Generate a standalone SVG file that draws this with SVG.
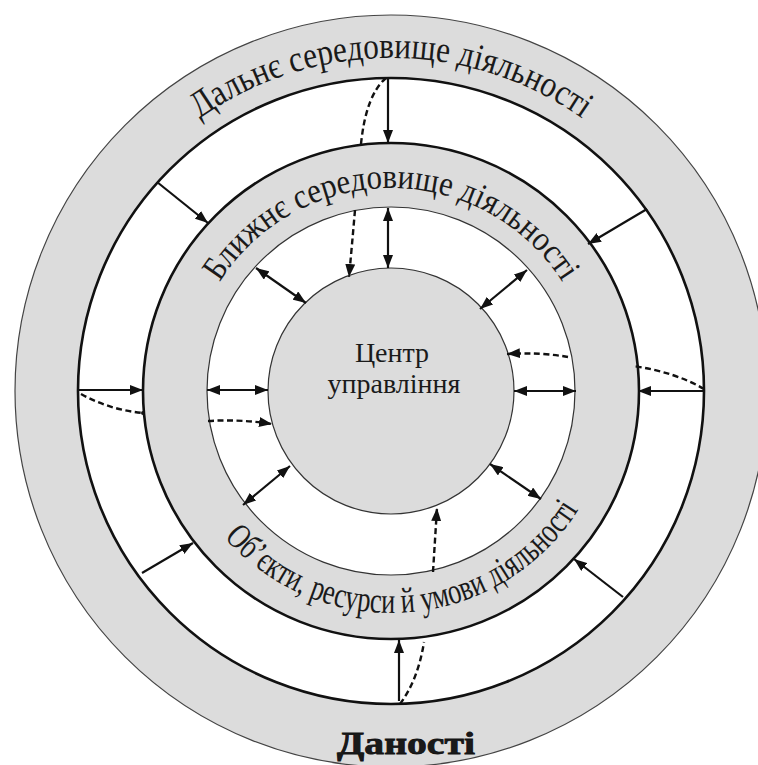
<svg xmlns="http://www.w3.org/2000/svg" width="758" height="765" viewBox="0 0 758 765">
<style>
.band{fill:#dcdcdc}
.thick{stroke:#111;stroke-width:2.6}
.thin{stroke:#333;stroke-width:1.2}
.lbl{font-family:"Liberation Serif","Times New Roman",serif;fill:#1a1a1a}
.solid{fill:none;stroke:#111;stroke-width:2.2}
.dash{fill:none;stroke:#111;stroke-width:2.4;stroke-dasharray:6 3.5}
</style>
<defs>
<marker id="ah" viewBox="0 0 13 10" refX="13" refY="5" markerWidth="13" markerHeight="10" markerUnits="userSpaceOnUse" orient="auto-start-reverse">
<path d="M0,0 L13,5 L0,10 z" fill="#111"/>
</marker>
<path id="pTop" d="M58,391 A333,333 0 0 1 724,391"/>
<path id="pMid" d="M188,391 A203,203 0 0 1 594,391"/>
<path id="pBot" d="M169,391 A222,222 0 0 0 613,391"/>
</defs>
<g id="ring-far">
<circle cx="391" cy="391" r="376" class="band" stroke="#444" stroke-width="1.2"/>
<text class="lbl" font-size="37"><textPath href="#pTop" startOffset="50%" text-anchor="middle" textLength="408" lengthAdjust="spacingAndGlyphs">Дальнє середовище діяльності</textPath></text>
<text class="lbl" x="406" y="754" text-anchor="middle" font-size="32" font-weight="bold" textLength="138" lengthAdjust="spacingAndGlyphs" stroke="#111" stroke-width="0.8">Даності</text>
</g>
<g id="gap-outer">
<circle cx="391" cy="391" r="313" fill="#fff" class="thick"/>
</g>
<g id="ring-near">
<circle cx="391" cy="391" r="248" class="band thick"/>
<text class="lbl" font-size="35"><textPath href="#pMid" startOffset="50%" text-anchor="middle" textLength="408" lengthAdjust="spacingAndGlyphs">Ближнє середовище діяльності</textPath></text>
<text class="lbl" font-size="36"><textPath href="#pBot" startOffset="160" textLength="412" lengthAdjust="spacingAndGlyphs">Об’єкти, ресурси й умови діяльності</textPath></text>
</g>
<g id="gap-inner">
<circle cx="391" cy="391" r="184" fill="#fff" class="thin"/>
</g>
<g id="center">
<circle cx="391" cy="391" r="123" class="band thin"/>
<text class="lbl" x="392" y="362" text-anchor="middle" font-size="28">Центр</text>
<text class="lbl" x="394" y="393" text-anchor="middle" font-size="28">управління</text>
</g>
<g id="connectors">
<path class="solid" marker-end="url(#ah)" d="M388,78 L388,143"/>
<path class="solid" marker-end="url(#ah)" d="M78,390 L143,390"/>
<path class="solid" marker-end="url(#ah)" d="M704,391 L638,391"/>
<path class="solid" marker-end="url(#ah)" d="M399,701 L399,640"/>
<path class="solid" marker-end="url(#ah)" d="M157,182 L208,223"/>
<path class="solid" marker-end="url(#ah)" d="M647,209 L588,244"/>
<path class="solid" marker-end="url(#ah)" d="M142,573 L193,543"/>
<path class="solid" marker-end="url(#ah)" d="M623,597 L574,559"/>
<path class="solid" marker-start="url(#ah)" marker-end="url(#ah)" d="M388,208 L388,268"/>
<path class="solid" marker-start="url(#ah)" marker-end="url(#ah)" d="M256,268 L306,303"/>
<path class="solid" marker-start="url(#ah)" marker-end="url(#ah)" d="M527,270 L480,309"/>
<path class="solid" marker-start="url(#ah)" marker-end="url(#ah)" d="M207,390 L268,390"/>
<path class="solid" marker-start="url(#ah)" marker-end="url(#ah)" d="M514,391 L576,391"/>
<path class="solid" marker-start="url(#ah)" marker-end="url(#ah)" d="M243,505 L290,466"/>
<path class="solid" marker-start="url(#ah)" marker-end="url(#ah)" d="M490,464 L541,499"/>
<path class="dash" d="M386,78 Q366,95 361,144"/>
<path class="dash" marker-end="url(#ah)" d="M355,210 Q352,245 349,277"/>
<path class="dash" d="M81,394 Q110,410 143,413"/>
<circle cx="143" cy="413" r="2" fill="#111"/>
<path class="dash" marker-end="url(#ah)" d="M208,421 Q240,419 272,424"/>
<path class="dash" d="M704,389 Q675,372 633,366"/>
<path class="dash" marker-end="url(#ah)" d="M568,357 Q540,352 507,354"/>
<path class="dash" d="M400,704 Q418,680 424,642"/>
<path class="dash" marker-end="url(#ah)" d="M433,572 L437,508"/>
</g>
</svg>
